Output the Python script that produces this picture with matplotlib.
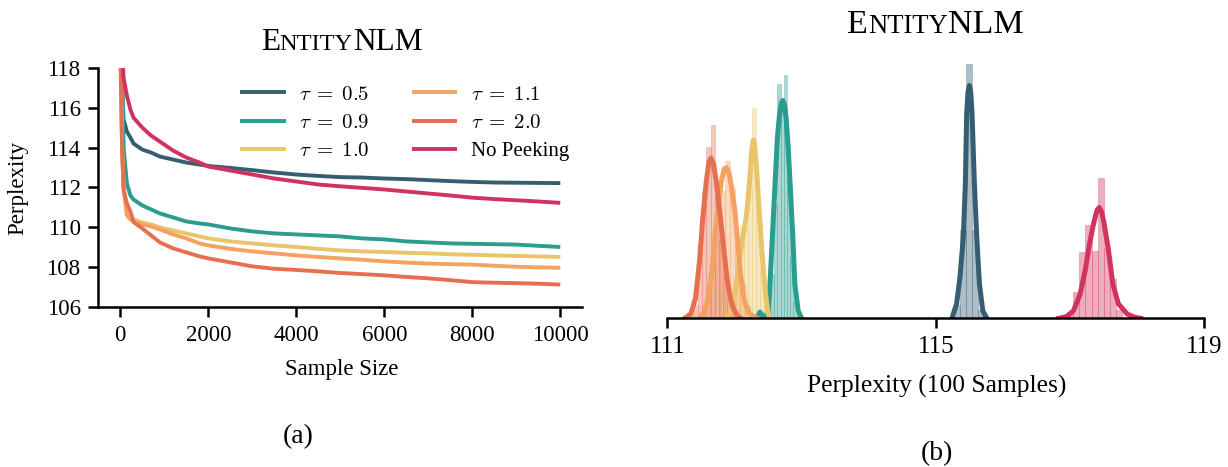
import numpy as np
import matplotlib
matplotlib.use("Agg")
import matplotlib.pyplot as plt
from matplotlib.transforms import IdentityTransform

plt.rcParams['font.family'] = ['Liberation Serif', 'DejaVu Serif']
plt.rcParams['mathtext.fontset'] = 'cm'

# ---------------- data: panel (a) ----------------
sample_size = [1, 40, 75, 150, 230, 300, 500, 700, 900, 1200, 1500, 1800, 2000,
               2500, 3000, 3500, 4000, 4500, 5000, 5500, 6000, 6500, 7000,
               7500, 8000, 8500, 9000, 9500, 10000]
ppl_tau05 = [121.0, 117.0, 115.4, 114.8, 114.5, 114.2, 113.9, 113.75, 113.55,
             113.4, 113.25, 113.15, 113.08, 112.98, 112.87, 112.75, 112.65,
             112.58, 112.52, 112.5, 112.45, 112.42, 112.37, 112.32, 112.28,
             112.25, 112.24, 112.23, 112.22]
ppl_tau09 = [119.5, 118.5, 114.0, 112.2, 111.6, 111.4, 111.1, 110.9, 110.7,
             110.5, 110.3, 110.2, 110.15, 109.95, 109.8, 109.7, 109.65, 109.6,
             109.55, 109.45, 109.4, 109.3, 109.25, 109.2, 109.18, 109.16,
             109.14, 109.08, 109.02]
ppl_tau10 = [119.5, 114.0, 112.0, 110.7, 110.5, 110.4, 110.25, 110.15, 110.0,
             109.85, 109.7, 109.55, 109.45, 109.3, 109.2, 109.1, 109.02, 108.93,
             108.85, 108.8, 108.77, 108.73, 108.7, 108.66, 108.63, 108.6,
             108.57, 108.55, 108.52]
ppl_tau11 = [119.5, 114.0, 112.0, 110.6, 110.4, 110.3, 110.15, 110.05, 109.9,
             109.65, 109.45, 109.2, 109.1, 108.93, 108.8, 108.7, 108.6, 108.52,
             108.45, 108.38, 108.3, 108.24, 108.19, 108.16, 108.14, 108.08,
             108.03, 108.0, 107.98]
ppl_tau20 = [119.0, 114.0, 111.86, 111.2, 110.8, 110.27, 109.95, 109.6, 109.25,
             108.95, 108.75, 108.55, 108.45, 108.25, 108.05, 107.93, 107.87,
             107.8, 107.72, 107.66, 107.6, 107.52, 107.45, 107.36, 107.26,
             107.23, 107.21, 107.18, 107.14]
ppl_nopeek = [125.0, 119.0, 117.5, 116.6, 115.9, 115.5, 115.0, 114.6, 114.3,
              113.85, 113.5, 113.25, 113.05, 112.85, 112.65, 112.45, 112.3,
              112.15, 112.06, 111.98, 111.9, 111.8, 111.7, 111.6, 111.49,
              111.42, 111.36, 111.3, 111.23]

series_labels = [r'$\tau\;=\;0.5$', r'$\tau\;=\;0.9$', r'$\tau\;=\;1.0$',
                 r'$\tau\;=\;1.1$', r'$\tau\;=\;2.0$', 'No Peeking']
colors = ['#365E72', '#2A9D8F', '#E9C46A', '#F4A261', '#E76F51', '#D1335F']

# ---------------- data: panel (b) ----------------
# KDE curves (perplexity, density)
kde_tau05_x = [115.24, 115.31, 115.36, 115.41, 115.44, 115.46, 115.48, 115.50,
               115.52, 115.54, 115.575, 115.61, 115.65, 115.70, 115.76]
kde_tau05_y = [0.0, 0.33, 0.93, 1.84, 3.05, 4.65, 5.15, 5.29, 5.15, 4.65, 3.05,
               1.84, 0.78, 0.17, 0.0]
kde_tau09_x = [112.33, 112.36, 112.38, 112.41, 112.44, 112.48, 112.505, 112.53,
               112.565, 112.605, 112.64, 112.67, 112.70, 112.72, 112.745,
               112.77, 112.80, 112.83, 112.87, 112.90, 112.95, 113.0]
kde_tau09_y = [0.0, 0.08, 0.14, 0.08, 0.02, 0.05, 0.17, 0.78, 1.84, 3.05, 4.1,
               4.6, 4.9, 4.95, 4.85, 4.55, 3.9, 3.05, 1.84, 0.78, 0.17, 0.0]
kde_tau10_x = [111.88, 111.93, 111.97, 112.01, 112.05, 112.08, 112.12, 112.15,
               112.18, 112.21, 112.235, 112.26, 112.28, 112.30, 112.33, 112.36,
               112.41, 112.46, 112.50, 112.53]
kde_tau10_y = [0.0, 0.1, 0.3, 0.63, 1.0, 1.39, 1.8, 2.05, 2.35, 2.8, 3.3, 3.85,
               4.05, 3.95, 3.4, 2.65, 1.5, 0.6, 0.12, 0.0]
kde_tau11_x = [111.47, 111.54, 111.60, 111.64, 111.68, 111.71, 111.76, 111.81,
               111.85, 111.885, 111.92, 111.96, 112.01, 112.05, 112.08, 112.12,
               112.16, 112.22, 112.28, 112.34]
kde_tau11_y = [0.0, 0.1, 0.4, 0.8, 1.3, 1.85, 2.6, 3.15, 3.4, 3.42, 3.3, 2.95,
               2.4, 1.7, 1.15, 0.65, 0.33, 0.12, 0.04, 0.0]
kde_tau20_x = [111.26, 111.35, 111.42, 111.48, 111.53, 111.58, 111.62, 111.65,
               111.69, 111.74, 111.79, 111.84, 111.89, 111.94, 111.99, 112.05,
               112.10]
kde_tau20_y = [0.0, 0.1, 0.45, 1.3, 2.3, 3.1, 3.55, 3.64, 3.5, 3.0, 2.3, 1.6,
               0.9, 0.45, 0.2, 0.05, 0.0]
kde_nopeek_x = [116.83, 116.95, 117.05, 117.15, 117.225, 117.29, 117.35, 117.40,
                117.434, 117.47, 117.508, 117.573, 117.637, 117.72, 117.85,
                117.95, 118.05]
kde_nopeek_y = [0.0, 0.04, 0.17, 0.55, 1.08, 1.69, 2.15, 2.45, 2.52, 2.42, 2.15,
                1.54, 0.78, 0.33, 0.1, 0.03, 0.0]

# histogram bins (edges) and bar heights (density)
hist_tau05_edges = [115.27, 115.36, 115.45, 115.54, 115.63, 115.72]
hist_tau05_h = [0.3, 2.0, 5.77, 2.0, 0.2]
hist_tau09_edges = [112.352, 112.40, 112.448, 112.496, 112.544, 112.592, 112.64,
                    112.688, 112.736, 112.784, 112.832, 112.88, 112.928]
hist_tau09_h = [0.2, 0.0, 0.0, 0.2, 1.0, 2.6, 5.33, 4.7, 5.54, 3.6, 1.4, 0.4]
hist_tau10_edges = [111.902, 111.962, 112.022, 112.082, 112.142, 112.202,
                    112.262, 112.322, 112.382, 112.442, 112.502]
hist_tau10_h = [0.1, 0.5, 1.2, 2.1, 2.1, 3.0, 4.78, 2.4, 1.1, 0.3]
hist_tau11_edges = [111.485, 111.56, 111.635, 111.71, 111.785, 111.86, 111.935,
                    112.01, 112.085, 112.16, 112.235, 112.31]
hist_tau11_h = [0.15, 0.5, 1.2, 2.0, 2.9, 3.58, 2.94, 1.7, 0.8, 0.3, 0.1]
hist_tau20_edges = [111.335, 111.397, 111.459, 111.521, 111.583, 111.645,
                    111.707, 111.769, 111.831, 111.893, 111.955, 112.017]
hist_tau20_h = [0.1, 0.3, 1.7, 2.9, 3.89, 4.40, 2.8, 1.8, 1.0, 0.4, 0.1]
hist_nopeek_edges = [116.96, 117.05, 117.14, 117.23, 117.32, 117.41, 117.50,
                     117.59, 117.68, 117.77]
hist_nopeek_h = [0.15, 0.6, 1.5, 2.13, 1.54, 3.2, 1.6, 0.9, 0.2]

W, H = 1228, 467
fig = plt.figure(figsize=(W / 100, H / 100), dpi=100)

# ---------------- panel (a) ----------------
axa = fig.add_axes([98.3 / W, 1 - 307.3 / H, (582.3 - 98.3) / W, (307.3 - 67.7) / H])
curves = [ppl_tau05, ppl_tau09, ppl_tau10, ppl_tau11, ppl_tau20, ppl_nopeek]
lines = []
for vals, lab, c in zip(curves, series_labels, colors):
    ln, = axa.plot(sample_size, vals, color=c, lw=2.8, label=lab,
                   solid_capstyle='butt')
    lines.append(ln)
axa.set_xlim(-500, 10500)
axa.set_ylim(106, 118)
axa.set_xticks([0, 2000, 4000, 6000, 8000, 10000])
axa.set_yticks([106, 108, 110, 112, 114, 116, 118])
for s in ['top', 'right']:
    axa.spines[s].set_visible(False)
for s in ['left', 'bottom']:
    axa.spines[s].set_linewidth(1.8)
axa.tick_params(axis='both', length=7.2, width=1.8, labelsize=16.5, pad=5.5)
axa.set_xlabel('Sample Size', fontsize=16.5)
axa.set_ylabel('Perplexity', fontsize=16.5)
leg = axa.legend(lines, series_labels,
                 ncol=2, frameon=False, fontsize=15, loc='upper left',
                 bbox_to_anchor=(240, H - 85), bbox_transform=IdentityTransform(),
                 borderpad=0, borderaxespad=0, handlelength=2.2,
                 handletextpad=0.65, columnspacing=2.0, labelspacing=0.42)

# ---------------- panel (b) ----------------
axb = fig.add_axes([667.3 / W, 1 - 318.3 / H, (1204.3 - 667.3) / W, (318.3 - 60) / H])
hists = [(hist_tau05_edges, hist_tau05_h), (hist_tau09_edges, hist_tau09_h),
         (hist_tau10_edges, hist_tau10_h), (hist_tau11_edges, hist_tau11_h),
         (hist_tau20_edges, hist_tau20_h), (hist_nopeek_edges, hist_nopeek_h)]
kdes = [(kde_tau05_x, kde_tau05_y), (kde_tau09_x, kde_tau09_y),
        (kde_tau10_x, kde_tau10_y), (kde_tau11_x, kde_tau11_y),
        (kde_tau20_x, kde_tau20_y), (kde_nopeek_x, kde_nopeek_y)]
for (edges, hts), c in zip(hists, colors):
    e = np.asarray(edges)
    axb.bar(e[:-1], hts, width=np.diff(e), align='edge', color=c, alpha=0.4,
            edgecolor=c, linewidth=0.5)
for (kx, ky), c in zip(kdes, colors):
    axb.plot(kx, ky, color=c, lw=3.6, solid_joinstyle='round')
axb.set_xlim(111, 119)
axb.set_ylim(0, (318.3 - 60) / 44)
axb.set_xticks([111, 115, 119])
axb.set_yticks([])
for s in ['top', 'right', 'left']:
    axb.spines[s].set_visible(False)
axb.spines['bottom'].set_linewidth(1.8)
axb.tick_params(axis='x', length=7.2, width=1.8, labelsize=18, pad=5.5)
axb.set_xlabel('Perplexity (100 Samples)', fontsize=18.4)

fig.canvas.draw()
renderer = fig.canvas.get_renderer()

# label placement (in display pixels)
axa.xaxis.set_label_coords(341.5, H - 369, transform=IdentityTransform())
axa.xaxis.label.set_va('center')
axa.yaxis.set_label_coords(17.3, H - 188, transform=IdentityTransform())
axa.yaxis.label.set_va('center')
axb.xaxis.set_label_coords(937, H - 386.7, transform=IdentityTransform())
axb.xaxis.label.set_va('center')


def small_caps(parts, xc, yb, size):
    texts = []
    for s, scale in parts:
        t = fig.text(0, H - yb, s, fontsize=size * scale, ha='left',
                     va='baseline', transform=IdentityTransform())
        texts.append(t)
    widths = [t.get_window_extent(renderer).width for t in texts]
    x = xc - sum(widths) / 2
    for t, w in zip(texts, widths):
        t.set_x(x)
        x += w


title_parts = [('E', 1.0), ('NTITY', 0.78), ('NLM', 1.0)]
small_caps(title_parts, 341.5, 50, 22.5)
small_caps(title_parts, 935.5, 33.3, 24.5)

fig.text(298.5, H - 437, '(a)', fontsize=20, ha='center', va='center',
         transform=IdentityTransform())
fig.text(936.8, H - 453.3, '(b)', fontsize=20, ha='center', va='center',
         transform=IdentityTransform())

fig.savefig('out.png', dpi=100)
